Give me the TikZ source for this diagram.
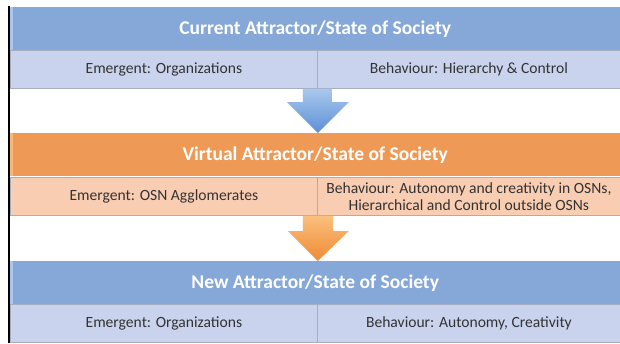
\documentclass[tikz,border=0pt]{standalone}
\usepackage{fontspec}
\setmainfont{Carlito}
\usetikzlibrary{calc}
\definecolor{hblue}{HTML}{86A8D8}
\definecolor{hbluelt}{HTML}{A9C6EE}
\definecolor{rblue}{HTML}{C9D3EE}
\definecolor{horange}{HTML}{EE9A56}
\definecolor{horangelt}{HTML}{F8B978}
\definecolor{rorange}{HTML}{F9CDB1}
\definecolor{cellline}{HTML}{A7AEC2}
\definecolor{ablueT}{HTML}{A8C8EE}
\definecolor{ablueB}{HTML}{5E8FD6}
\definecolor{aorangeT}{HTML}{FBC07E}
\definecolor{aorangeB}{HTML}{EE8A33}
\begin{document}
\begin{tikzpicture}[x=1pt,y=-1pt,
  hdr/.style={anchor=north west, minimum width=610pt, minimum height=43pt,
    inner sep=0pt, text=white, font=\fontsize{19.5}{22}\selectfont\bfseries},
  cellL/.style={anchor=north west, minimum width=307pt, minimum height=38pt,
    inner sep=0pt, draw=cellline, line width=0.8pt, align=center,
    text=black!80, font=\fontsize{15.6}{16.5}\selectfont},
  cellR/.style={cellL, minimum width=303pt},
  bar/.style={line width=2pt, black}]
\useasboundingbox (0,0) rectangle (620,343);
\fill[white] (0,0) rectangle (620,343);
% left black rule
\coordinate (rt) at (8.5,6);
\coordinate (rb) at (8.5,343);
\draw[bar] (rt) -- (rb);
% state 1
\node[hdr, fill=hblue] (h1) at (10,7) {Current Attractor/State of Society};
\fill[hbluelt] (h1.north west) rectangle ($(h1.south west)+(3,0)$);
\node[cellL, fill=rblue] (e1) at (10,50) {Emergent: Organizations};
\node[cellR, fill=rblue] (b1) at (317,50) {Behaviour: Hierarchy \& Control};
% state 2
\node[hdr, fill=horange] (h2) at (10,133) {Virtual Attractor/State of Society};
\fill[horangelt] (h2.north west) rectangle ($(h2.south west)+(3,0)$);
\node[cellL, fill=rorange] (e2) at (10,177) {Emergent: OSN Agglomerates};
\node[cellR, fill=rorange] (b2) at (317,177) {Behaviour: Autonomy and creativity in OSNs,\\Hierarchical and Control outside OSNs};
% state 3
\node[hdr, fill=hblue] (h3) at (10,261) {New Attractor/State of Society};
\fill[hbluelt] (h3.north west) rectangle ($(h3.south west)+(3,0)$);
\node[cellL, fill=rblue] (e3) at (10,304) {Emergent: Organizations};
\node[cellR, fill=rblue] (b3) at (317,304) {Behaviour: Autonomy, Creativity};
% block arrows
\shade[top color=ablueT, bottom color=ablueB]
  let \p1=(e1.south east), \p2=(h2.north) in
  (\x1-15,\y1) -- (\x1+14,\y1) -- (\x1+14,\y2+31) -- (\x1+31,\y2+31)
  -- (\x1,\y2) -- (\x1-31,\y2+31) -- (\x1-15,\y2+31) -- cycle;
\shade[top color=aorangeT, bottom color=aorangeB]
  let \p1=(e2.south east), \p2=(h3.north) in
  (\x1-15,\y1) -- (\x1+15,\y1) -- (\x1+15,\y2+30) -- (\x1+31,\y2+30)
  -- (\x1,\y2) -- (\x1-30,\y2+30) -- (\x1-15,\y2+30) -- cycle;
\end{tikzpicture}
\end{document}
